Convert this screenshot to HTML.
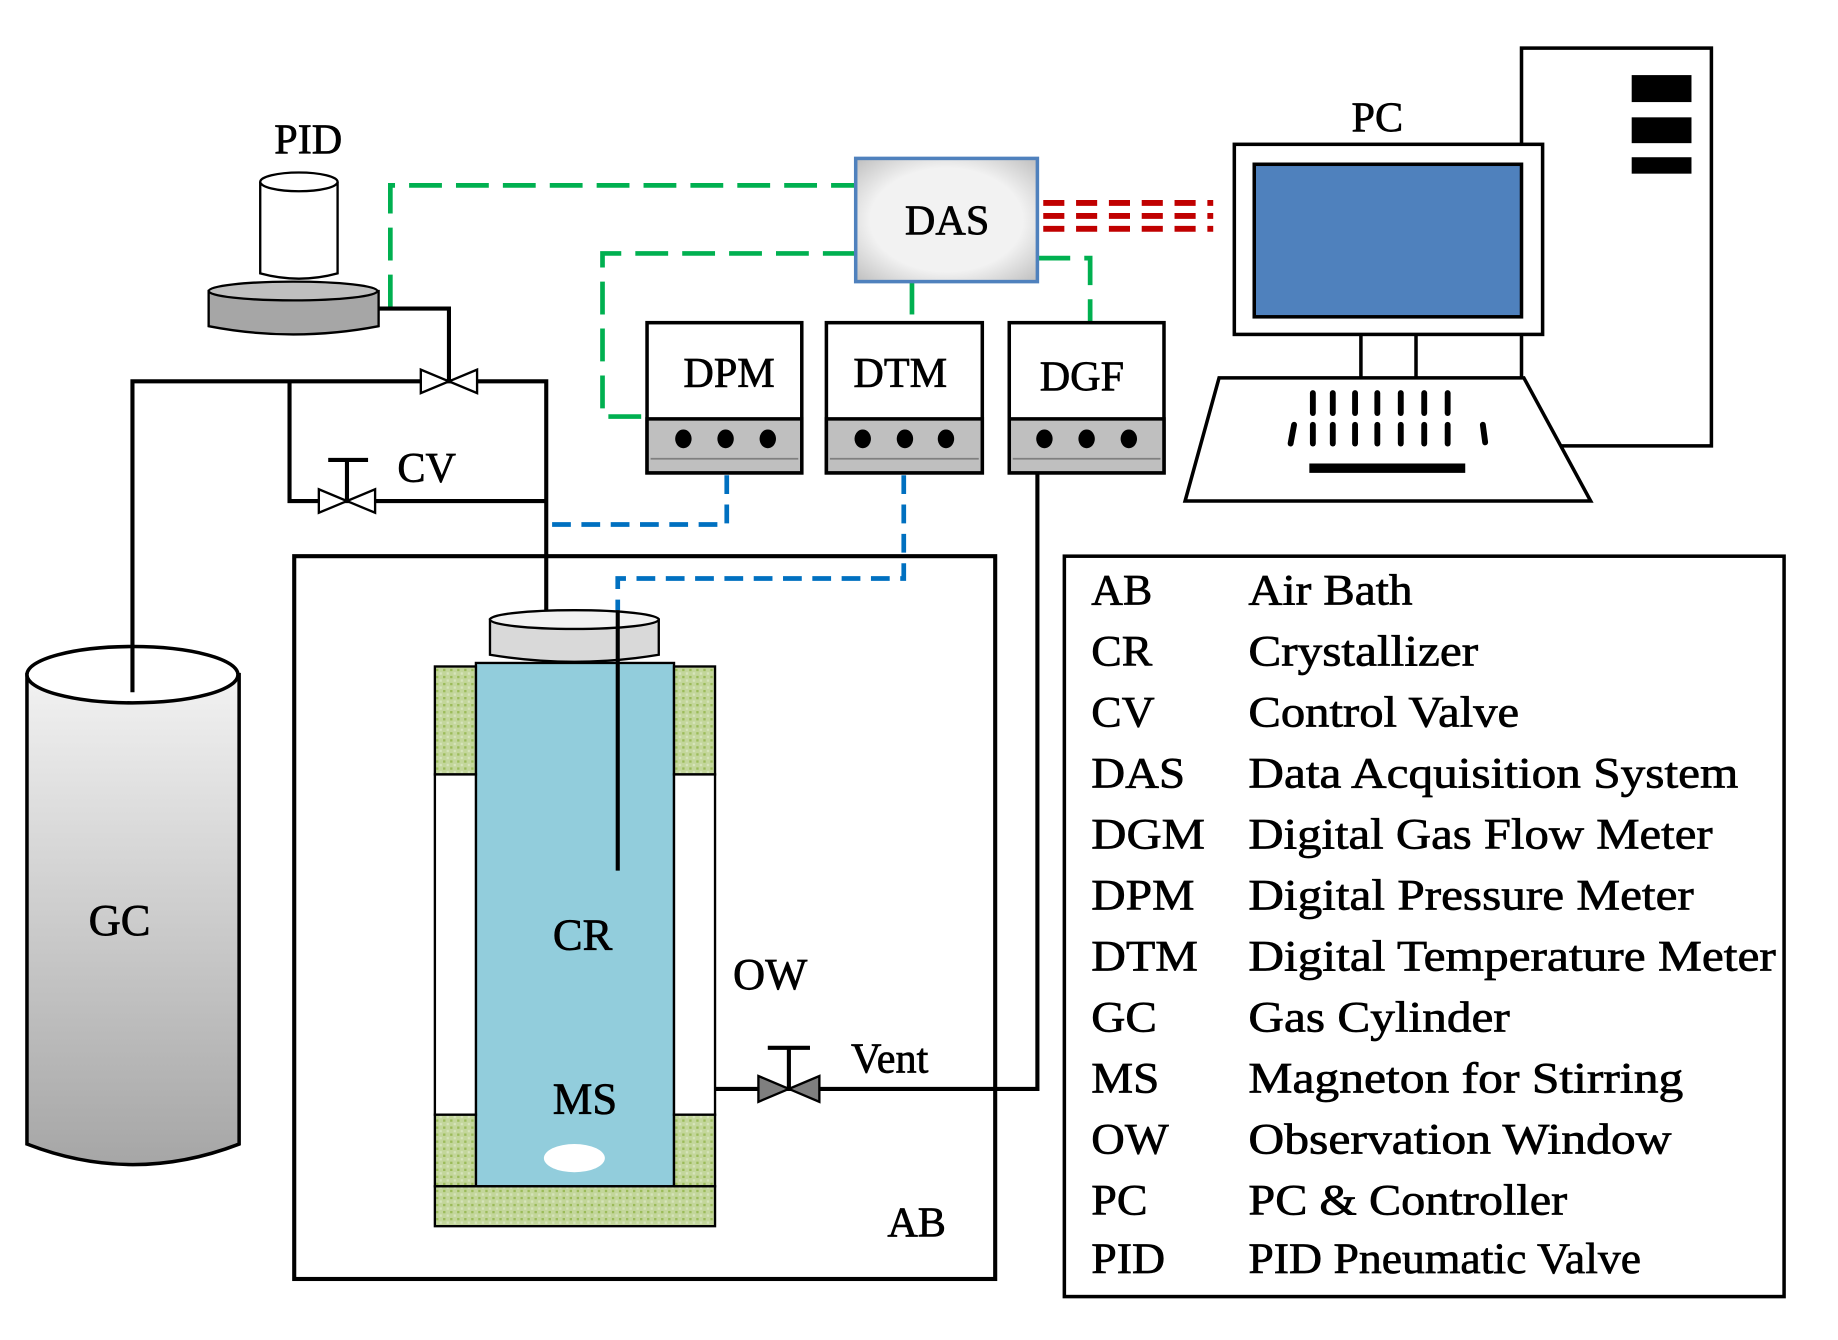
<!DOCTYPE html>
<html><head><meta charset="utf-8"><style>html,body{margin:0;padding:0;background:#fff}svg{display:block}text{font-family:"Liberation Serif",serif;fill:#000;stroke:#000;stroke-width:0.6}</style></head>
<body>
<svg width="1838" height="1340" viewBox="0 0 1568 1142" preserveAspectRatio="none" xmlns="http://www.w3.org/2000/svg">
<defs>
<linearGradient id="gc" x1="0" y1="0" x2="0" y2="1"><stop offset="0" stop-color="#f2f2f2"/><stop offset="1" stop-color="#a6a6a6"/></linearGradient>
<radialGradient id="das" cx="0.5" cy="0.5" r="0.7"><stop offset="0.6" stop-color="#f2f2f2"/><stop offset="1" stop-color="#bfbfbf"/></radialGradient>
<pattern id="gr" width="6" height="6" patternUnits="userSpaceOnUse"><rect width="6" height="6" fill="#c3d69b"/><rect width="2" height="2" fill="#9bbb59"/><rect x="3" y="3" width="2" height="2" fill="#d7e4bd"/></pattern>
</defs>
<rect x="1298" y="41" width="162" height="339" fill="#fff" stroke="#000" stroke-width="3"/>
<rect x="1392" y="64" width="51" height="23" fill="#000"/>
<rect x="1392" y="100" width="51" height="22" fill="#000"/>
<rect x="1392" y="134" width="51" height="14" fill="#000"/>
<rect x="1053" y="123" width="263" height="162" fill="#fff" stroke="#000" stroke-width="3"/>
<rect x="1070" y="140" width="228" height="130" fill="#4f81bd" stroke="#000" stroke-width="3"/>
<line x1="1161" y1="285" x2="1161" y2="322" stroke="#000" stroke-width="3"/>
<line x1="1208" y1="285" x2="1208" y2="322" stroke="#000" stroke-width="3"/>
<polygon points="1040,322 1300,322 1357,427 1011,427" fill="#fff" stroke="#000" stroke-width="3"/>
<g stroke="#000" stroke-width="5" stroke-linecap="round">
<line x1="1120" y1="335" x2="1120" y2="352"/><line x1="1137" y1="335" x2="1137" y2="352"/><line x1="1156" y1="335" x2="1156" y2="352"/><line x1="1175" y1="335" x2="1175" y2="352"/><line x1="1195" y1="335" x2="1195" y2="352"/><line x1="1215" y1="335" x2="1215" y2="352"/><line x1="1235" y1="335" x2="1235" y2="352"/>
<line x1="1104" y1="362" x2="1101" y2="378"/><line x1="1120" y1="362" x2="1120" y2="378"/><line x1="1137" y1="362" x2="1137" y2="378"/><line x1="1156" y1="362" x2="1156" y2="378"/><line x1="1175" y1="362" x2="1175" y2="378"/><line x1="1195" y1="362" x2="1195" y2="378"/><line x1="1215" y1="362" x2="1215" y2="378"/><line x1="1235" y1="362" x2="1235" y2="378"/><line x1="1265" y1="362" x2="1267" y2="377"/>
</g>
<rect x="1117" y="395" width="133" height="8" fill="#000"/>
<text x="1175" y="112" font-size="36" text-anchor="middle">PC</text>
<g stroke="#c00000" stroke-width="5" stroke-dasharray="18,10">
<line x1="890" y1="173" x2="1035" y2="173"/><line x1="890" y1="184" x2="1035" y2="184"/><line x1="890" y1="195" x2="1035" y2="195"/>
</g>
<g fill="none" stroke="#00b050" stroke-width="4" stroke-dasharray="28,12">
<polyline points="333,262 333,158 730,158"/>
<polyline points="730,216 514,216 514,355 552,355"/>
<polyline points="778,240 778,275"/>
<polyline points="885,220 930,220 930,275"/>
</g>
<rect x="730" y="135" width="155" height="105" fill="url(#das)" stroke="#4f81bd" stroke-width="3"/>
<text x="808" y="200" font-size="36" text-anchor="middle">DAS</text>
<g stroke="#000" stroke-width="3">
<rect x="552" y="275" width="132" height="128" fill="#fff"/><rect x="552" y="357" width="132" height="46" fill="#bfbfbf"/>
<rect x="705" y="275" width="133" height="128" fill="#fff"/><rect x="705" y="357" width="133" height="46" fill="#bfbfbf"/>
<rect x="861" y="275" width="132" height="128" fill="#fff"/><rect x="861" y="357" width="132" height="46" fill="#bfbfbf"/>
</g>
<g stroke="#7f7f7f" stroke-width="1.5"><line x1="555" y1="391" x2="681" y2="391"/><line x1="708" y1="391" x2="835" y2="391"/><line x1="864" y1="391" x2="990" y2="391"/></g>
<g fill="#000">
<ellipse cx="583" cy="374" rx="7" ry="8"/><ellipse cx="619" cy="374" rx="7" ry="8"/><ellipse cx="655" cy="374" rx="7" ry="8"/>
<ellipse cx="736" cy="374" rx="7" ry="8"/><ellipse cx="772" cy="374" rx="7" ry="8"/><ellipse cx="807" cy="374" rx="7" ry="8"/>
<ellipse cx="891" cy="374" rx="7" ry="8"/><ellipse cx="927" cy="374" rx="7" ry="8"/><ellipse cx="963" cy="374" rx="7" ry="8"/>
</g>
<text x="622" y="330" font-size="36" text-anchor="middle">DPM</text>
<text x="768" y="330" font-size="36" text-anchor="middle">DTM</text>
<text x="923" y="333" font-size="36" text-anchor="middle">DGF</text>
<path d="M178,248 L178,278 Q250,292 323,278 L323,248 Z" fill="#a6a6a6" stroke="#000" stroke-width="2"/>
<ellipse cx="250" cy="248" rx="72" ry="8" fill="#bfbfbf" stroke="#000" stroke-width="2"/>
<path d="M222,155 L222,233 Q255,242 288,233 L288,155" fill="#fff" stroke="#000" stroke-width="2"/>
<ellipse cx="255" cy="155" rx="33" ry="8" fill="#fff" stroke="#000" stroke-width="2"/>
<text x="263" y="131" font-size="36" text-anchor="middle">PID</text>
<g fill="none" stroke="#000" stroke-width="3.5">
<polyline points="323,263 383,263 383,325"/>
<polyline points="113,580 113,325 466,325 466,520"/>
<polyline points="247,325 247,427 466,427"/>
<line x1="296" y1="427" x2="296" y2="392"/><line x1="280" y1="392" x2="314" y2="392"/>
<polyline points="610,928 885,928 885,403"/>
<line x1="673" y1="928" x2="673" y2="893"/><line x1="655" y1="893" x2="691" y2="893"/>
</g>
<g stroke="#000" stroke-width="2">
<polygon points="359,315 359,335 383,325" fill="#fff"/><polygon points="407,315 407,335 383,325" fill="#fff"/>
<polygon points="272,417 272,437 296,427" fill="#fff"/><polygon points="320,417 320,437 296,427" fill="#fff"/>
<polygon points="647,917 647,939 673,928" fill="#7f7f7f"/><polygon points="699,917 699,939 673,928" fill="#7f7f7f"/>
</g>
<text x="364" y="411" font-size="36" text-anchor="middle">CV</text>
<g fill="none" stroke="#0070c0" stroke-width="4" stroke-dasharray="16,9">
<polyline points="620,405 620,447 466,447"/>
<polyline points="771,405 771,493 527,493 527,520"/>
</g>
<rect x="251" y="474" width="598" height="616" fill="none" stroke="#000" stroke-width="3.5"/>
<text x="782" y="1054" font-size="36" text-anchor="middle">AB</text>
<path d="M23,575 L23,975 Q113,1010 204,975 L204,575 Z" fill="url(#gc)" stroke="#000" stroke-width="3"/>
<ellipse cx="113" cy="575" rx="90" ry="24" fill="#fff" stroke="#000" stroke-width="3"/>
<line x1="113" y1="550" x2="113" y2="590" stroke="#000" stroke-width="3.5"/>
<text x="102" y="797" font-size="38" text-anchor="middle">GC</text>
<rect x="406" y="565" width="169" height="446" fill="#92cddc" stroke="#000" stroke-width="2"/>
<rect x="371" y="568" width="35" height="92" fill="url(#gr)" stroke="#000" stroke-width="2"/>
<rect x="575" y="568" width="35" height="92" fill="url(#gr)" stroke="#000" stroke-width="2"/>
<rect x="371" y="660" width="35" height="290" fill="#fff" stroke="#000" stroke-width="2"/>
<rect x="575" y="660" width="35" height="290" fill="#fff" stroke="#000" stroke-width="2"/>
<rect x="371" y="950" width="35" height="61" fill="url(#gr)" stroke="#000" stroke-width="2"/>
<rect x="575" y="950" width="35" height="61" fill="url(#gr)" stroke="#000" stroke-width="2"/>
<rect x="371" y="1011" width="239" height="34" fill="url(#gr)" stroke="#000" stroke-width="2"/>
<path d="M418,528 L418,558 Q490,570 562,558 L562,528 Z" fill="#d9d9d9" stroke="#000" stroke-width="2"/>
<ellipse cx="490" cy="528" rx="72" ry="8" fill="#f2f2f2" stroke="#000" stroke-width="2"/>
<line x1="527" y1="520" x2="527" y2="742" stroke="#000" stroke-width="3.5"/>
<ellipse cx="490" cy="987" rx="26" ry="12" fill="#fff"/>
<text x="497" y="809" font-size="38" text-anchor="middle">CR</text>
<text x="499" y="949" font-size="38" text-anchor="middle">MS</text>
<text x="657" y="843" font-size="38" text-anchor="middle">OW</text>
<text x="759" y="914" font-size="36" text-anchor="middle">Vent</text>
<rect x="908" y="474" width="614" height="631" fill="none" stroke="#000" stroke-width="3"/>
<g font-size="37">
<text x="931" y="515" textLength="52" lengthAdjust="spacingAndGlyphs">AB</text><text x="1065" y="515" textLength="140" lengthAdjust="spacingAndGlyphs">Air Bath</text>
<text x="931" y="567" textLength="52" lengthAdjust="spacingAndGlyphs">CR</text><text x="1065" y="567" textLength="196" lengthAdjust="spacingAndGlyphs">Crystallizer</text>
<text x="931" y="619" textLength="54" lengthAdjust="spacingAndGlyphs">CV</text><text x="1065" y="619" textLength="231" lengthAdjust="spacingAndGlyphs">Control Valve</text>
<text x="931" y="671" textLength="80" lengthAdjust="spacingAndGlyphs">DAS</text><text x="1065" y="671" textLength="418" lengthAdjust="spacingAndGlyphs">Data Acquisition System</text>
<text x="931" y="723" textLength="97" lengthAdjust="spacingAndGlyphs">DGM</text><text x="1065" y="723" textLength="396" lengthAdjust="spacingAndGlyphs">Digital Gas Flow Meter</text>
<text x="931" y="775" textLength="88" lengthAdjust="spacingAndGlyphs">DPM</text><text x="1065" y="775" textLength="380" lengthAdjust="spacingAndGlyphs">Digital Pressure Meter</text>
<text x="931" y="827" textLength="91" lengthAdjust="spacingAndGlyphs">DTM</text><text x="1065" y="827" textLength="450" lengthAdjust="spacingAndGlyphs">Digital Temperature Meter</text>
<text x="931" y="879" textLength="56" lengthAdjust="spacingAndGlyphs">GC</text><text x="1065" y="879" textLength="223" lengthAdjust="spacingAndGlyphs">Gas Cylinder</text>
<text x="931" y="931" textLength="58" lengthAdjust="spacingAndGlyphs">MS</text><text x="1065" y="931" textLength="371" lengthAdjust="spacingAndGlyphs">Magneton for Stirring</text>
<text x="931" y="983" textLength="66" lengthAdjust="spacingAndGlyphs">OW</text><text x="1065" y="983" textLength="361" lengthAdjust="spacingAndGlyphs">Observation Window</text>
<text x="931" y="1035" textLength="48" lengthAdjust="spacingAndGlyphs">PC</text><text x="1065" y="1035" textLength="272" lengthAdjust="spacingAndGlyphs">PC &amp; Controller</text>
<text x="931" y="1085" textLength="63" lengthAdjust="spacingAndGlyphs">PID</text><text x="1065" y="1085" textLength="335" lengthAdjust="spacingAndGlyphs">PID Pneumatic Valve</text>
</g>
</svg>
</body></html>
